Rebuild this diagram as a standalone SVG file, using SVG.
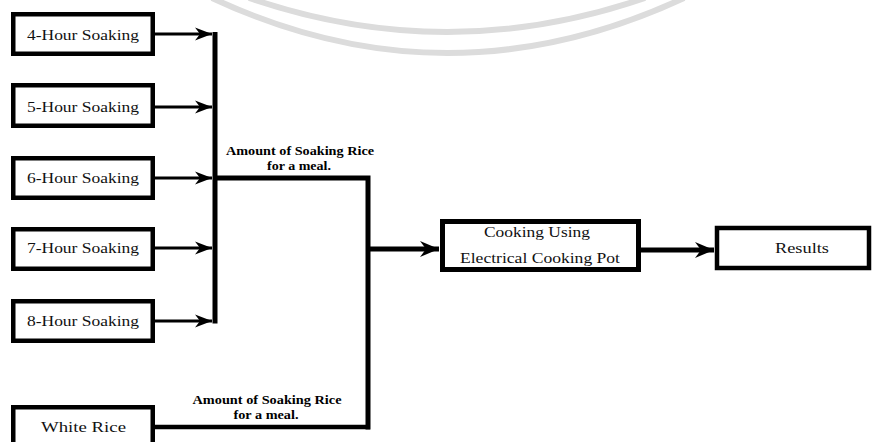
<svg xmlns="http://www.w3.org/2000/svg" width="872" height="442" viewBox="0 0 872 442">
  <style>
    .box { fill: #fff; stroke: #000; stroke-width: 4.5; }
    .lbl { font-family: "Liberation Serif", "Times New Roman", serif; font-size: 14px; fill: #111; text-anchor: middle; }
    .note { font-family: "Liberation Serif", "Times New Roman", serif; font-size: 12px; font-weight: bold; fill: #000; text-anchor: middle; }
    .thin { stroke: #000; stroke-width: 2.8; fill: none; }
    .thick { stroke: #000; stroke-width: 5; fill: none; }
    .wm { stroke: #dcdcdc; stroke-width: 6; fill: none; }
  </style>
  <defs>
    <marker id="ah" markerUnits="userSpaceOnUse" markerWidth="18" markerHeight="14" viewBox="-17 -7 18 14" refX="0" refY="0" orient="auto">
      <path d="M0 0 L-17 -6.5 L-12 0 L-17 6.5 Z" fill="#000"/>
    </marker>
    <marker id="ahL" markerUnits="userSpaceOnUse" markerWidth="20" markerHeight="18" viewBox="-19 -9 20 18" refX="0" refY="0" orient="auto">
      <path d="M0 0 L-19 -8 L-13 0 L-19 8 Z" fill="#000"/>
    </marker>
  </defs>
  <rect width="872" height="442" fill="#fff"/>
  <g id="watermark">
    <path class="wm" d="M 212 -2 Q 447 108 684 -2"/>
    <path class="wm" d="M 249 -2 Q 447 66 645 -2"/>
  </g>

  <g id="connectors">
    <line class="thin" x1="155" y1="34" x2="212" y2="34" marker-end="url(#ah)"/>
    <line class="thin" x1="155" y1="107" x2="212" y2="107" marker-end="url(#ah)"/>
    <line class="thin" x1="155" y1="178" x2="212" y2="178" marker-end="url(#ah)"/>
    <line class="thin" x1="155" y1="248" x2="212" y2="248" marker-end="url(#ah)"/>
    <line class="thin" x1="155" y1="321" x2="212" y2="321" marker-end="url(#ah)"/>
    <line class="thick" x1="215" y1="32" x2="215" y2="323.5"/>
    <polyline class="thick" points="215,178 368,178 368,429.5"/>
    <line class="thick" x1="155" y1="427" x2="370" y2="427" style="stroke-width:4.5"/>
    <line class="thick" x1="368" y1="249" x2="439" y2="249" marker-end="url(#ahL)"/>
    <line class="thick" x1="641" y1="250" x2="714" y2="250" marker-end="url(#ahL)"/>
  </g>

  <g id="n4">
    <rect class="box" x="13.25" y="14.25" width="139.5" height="39.5"/>
    <text class="lbl" x="83" y="39.5" textLength="112" lengthAdjust="spacingAndGlyphs">4-Hour Soaking</text>
  </g>
  <g id="n5">
    <rect class="box" x="13.25" y="85.25" width="139.5" height="40.5"/>
    <text class="lbl" x="83" y="112" textLength="112" lengthAdjust="spacingAndGlyphs">5-Hour Soaking</text>
  </g>
  <g id="n6">
    <rect class="box" x="13.25" y="158.25" width="139.5" height="39.5"/>
    <text class="lbl" x="83" y="183" textLength="112" lengthAdjust="spacingAndGlyphs">6-Hour Soaking</text>
  </g>
  <g id="n7">
    <rect class="box" x="13.25" y="229.25" width="139.5" height="39.5"/>
    <text class="lbl" x="83" y="253" textLength="112" lengthAdjust="spacingAndGlyphs">7-Hour Soaking</text>
  </g>
  <g id="n8">
    <rect class="box" x="13.25" y="301.25" width="139.5" height="39.5"/>
    <text class="lbl" x="83" y="326" textLength="112" lengthAdjust="spacingAndGlyphs">8-Hour Soaking</text>
  </g>
  <g id="nwhite">
    <rect class="box" x="13.25" y="407.25" width="139.5" height="42"/>
    <text class="lbl" x="83.5" y="432" textLength="85" lengthAdjust="spacingAndGlyphs">White Rice</text>
  </g>
  <g id="ncook">
    <rect class="box" x="442.5" y="221.5" width="196" height="48" style="stroke-width:5"/>
    <text class="lbl" x="537" y="237" textLength="106" lengthAdjust="spacingAndGlyphs">Cooking Using</text>
    <text class="lbl" x="540" y="263" textLength="160" lengthAdjust="spacingAndGlyphs">Electrical Cooking Pot</text>
  </g>
  <g id="nresults">
    <rect class="box" x="717" y="228" width="152" height="40" style="stroke-width:4.5"/>
    <text class="lbl" x="802" y="253" textLength="54" lengthAdjust="spacingAndGlyphs">Results</text>
  </g>

  <g id="labels">
    <text class="note" x="300" y="155" textLength="148" lengthAdjust="spacingAndGlyphs">Amount of Soaking Rice</text>
    <text class="note" x="299" y="170" textLength="64" lengthAdjust="spacingAndGlyphs">for a meal.</text>
    <text class="note" x="267" y="404" textLength="149" lengthAdjust="spacingAndGlyphs">Amount of Soaking Rice</text>
    <text class="note" x="266" y="419" textLength="65" lengthAdjust="spacingAndGlyphs">for a meal.</text>
  </g>
</svg>
